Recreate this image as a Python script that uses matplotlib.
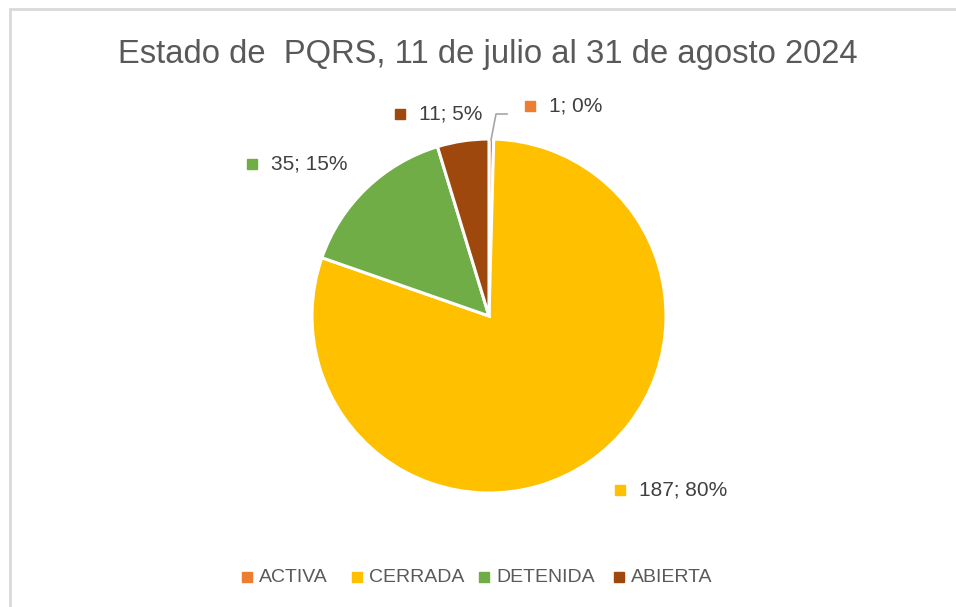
import matplotlib.pyplot as plt
from matplotlib.patches import Rectangle
from matplotlib.lines import Line2D

# Datos del gráfico
estados = ['ACTIVA', 'CERRADA', 'DETENIDA', 'ABIERTA']
cantidades = [1, 187, 35, 11]
colores = ['#ED7D31', '#FFC000', '#70AD47', '#9E480E']

titulo = 'Estado de  PQRS, 11 de julio al 31 de agosto 2024'

W, H = 956, 607
plt.rcParams['font.family'] = ['Liberation Sans Narrow', 'Liberation Sans', 'DejaVu Sans']
gris_texto = '#595959'

fig = plt.figure(figsize=(W / 100, H / 100), dpi=100)

def px(x, y):
    """Convierte pixeles (origen arriba-izquierda) a fracción de figura."""
    return x / W, 1 - y / H

# marco del área del gráfico
fig.patches.append(Rectangle(px(10, 640), (W + 20) / W, 631 / H, transform=fig.transFigure,
                             fill=False, edgecolor='#d9d9d9', linewidth=2))

# ejes en pixeles centrados en el pastel
cx, cy, R = 489, 316, 177
half = 220
ax = fig.add_axes([(cx - half) / W, (H - cy - half) / H, 2 * half / W, 2 * half / H])

wedges, _ = ax.pie(cantidades, colors=colores, radius=R, startangle=90, counterclock=False,
                   wedgeprops=dict(edgecolor='white', linewidth=2.2))
ax.set_xlim(-half, half)
ax.set_ylim(-half, half)
ax.axis('off')

fig.text(*px(488, 55), titulo, ha='center', va='center', fontsize=23.6, color=gris_texto)

# etiquetas de datos (posición en pixeles del cuadrito)
total = sum(cantidades)
pos_etiquetas = [(530, 106), (620, 490), (252, 164), (400, 114)]
for n, col, (x, y) in zip(cantidades, colores, pos_etiquetas):
    texto = f'{n}; {round(100 * n / total)}%'
    fig.add_artist(Line2D([x / W], [1 - y / H], marker='s', markersize=7, color=col,
                          linestyle='none', transform=fig.transFigure))
    fig.text(*px(x + 19, y), texto, ha='left', va='center', fontsize=15, color='#404040')

# línea guía de ACTIVA
guia = [(491, 140), (496, 114), (507, 114)]
fig.add_artist(Line2D([p[0] / W for p in guia], [1 - p[1] / H for p in guia],
                      color='#a6a6a6', linewidth=1.2, transform=fig.transFigure))

# leyenda
pos_leyenda = [247, 357, 484, 619]
for est, col, x in zip(estados, colores, pos_leyenda):
    fig.add_artist(Line2D([x / W], [1 - 577 / H], marker='s', markersize=7, color=col,
                          linestyle='none', transform=fig.transFigure))
    fig.text(*px(x + 12, 577), est, ha='left', va='center', fontsize=14, color=gris_texto)

fig.savefig('out.png', dpi=100, facecolor='white')
